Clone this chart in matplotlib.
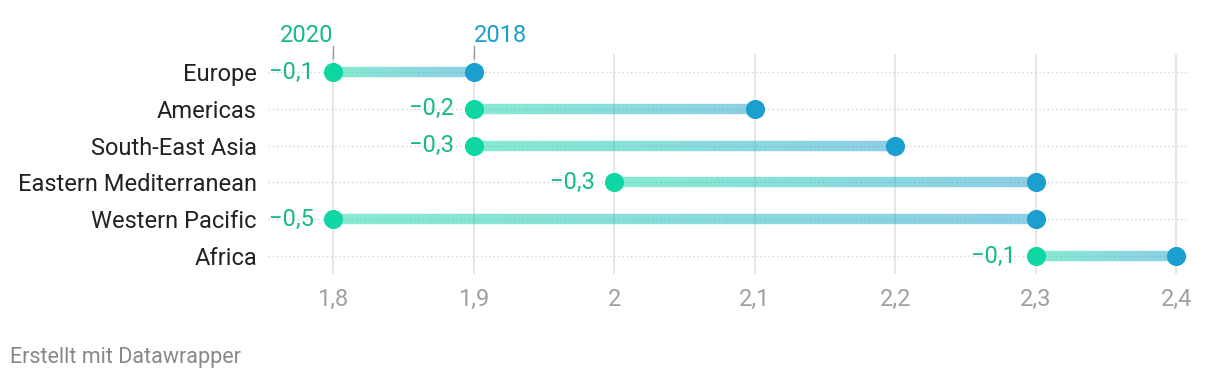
import numpy as np
import matplotlib.pyplot as plt
from matplotlib.collections import LineCollection
from matplotlib.colors import to_rgb
import matplotlib.transforms as mtransforms

plt.rcParams['font.family'] = ['Roboto', 'DejaVu Sans']

# Data
regions = ['Europe', 'Americas', 'South-East Asia', 'Eastern Mediterranean',
           'Western Pacific', 'Africa']
val_2018 = [1.9, 2.1, 2.2, 2.3, 2.3, 2.4]
val_2020 = [1.8, 1.9, 1.9, 2.0, 1.8, 2.3]
diff_labels = ['\u22120,1', '\u22120,2', '\u22120,3', '\u22120,3', '\u22120,5', '\u22120,1']
xticks = [1.8, 1.9, 2.0, 2.1, 2.2, 2.3, 2.4]
xtick_labels = ['1,8', '1,9', '2', '2,1', '2,2', '2,3', '2,4']

green = '#0fd7a3'
blue = '#1b9fcf'
green_text = '#17b98b'

fig = plt.figure(figsize=(12.2, 3.84), dpi=100)
ax = fig.add_axes([0.2197, 0.2854, 0.974 - 0.2197, 0.8604 - 0.2854])

y = np.arange(len(regions))

# row guides
for yi in y:
    ax.axhline(yi, color='#d4d4d4', lw=1, ls=(0, (1, 2)), zorder=1)

# vertical grid
for xt in xticks:
    ax.axvline(xt, color='#e2e2e2', lw=1.2, zorder=0)

# gradient bars
g = np.array(to_rgb(green))
b = np.array(to_rgb(blue))
n = 120
for yi, x0, x1 in zip(y, val_2020, val_2018):
    xs = np.linspace(x0, x1, n + 1)
    segs = [[(xs[i], yi), (xs[i + 1], yi)] for i in range(n)]
    t = np.linspace(0, 1, n)[:, None]
    cols = np.hstack([g * (1 - t) + b * t, np.full((n, 1), 0.5)])
    lc = LineCollection(segs, colors=cols, linewidths=7.5, capstyle='butt', zorder=2)
    ax.add_collection(lc)

ax.scatter(val_2020, y, s=190, color=green, zorder=4, linewidths=0)
ax.scatter(val_2018, y, s=190, color=blue, zorder=4, linewidths=0)

for yi, x0, lab in zip(y, val_2020, diff_labels):
    ax.annotate(lab, (x0, yi), xytext=(-14, 0), textcoords='offset points',
                ha='right', va='center', fontsize=17, color=green_text, zorder=5)

# header labels for first row
trans = mtransforms.blended_transform_factory(ax.transData, ax.transAxes)
for xv, lab, c, ha in [(val_2020[0], '2020', green_text, 'right'),
                       (val_2018[0], '2018', blue, 'left')]:
    ax.text(xv, 1.084, lab, transform=trans, ha=ha, va='center',
            fontsize=17, color=c)
    ax.plot([xv, xv], [0.98, 1.034], transform=trans, color='#999999', lw=1,
            clip_on=False, zorder=3)

ax.set_xlim(1.7537, 2.4085)
ax.set_ylim(5.5, -0.5)
ax.set_xticks(xticks)
ax.set_xticklabels(xtick_labels, fontsize=17, color='#a0a0a0')
ax.set_yticks(y)
ax.set_yticklabels(regions, fontsize=17, color='#222222')
ax.tick_params(axis='x', length=0, pad=10)
ax.tick_params(axis='y', length=0, pad=8)
for s in ax.spines.values():
    s.set_visible(False)

fig.text(10 / 1220, 1 - 357 / 384, 'Erstellt mit Datawrapper', fontsize=15.5,
         color='#888888', ha='left', va='center')

fig.savefig('out.png', dpi=100)
